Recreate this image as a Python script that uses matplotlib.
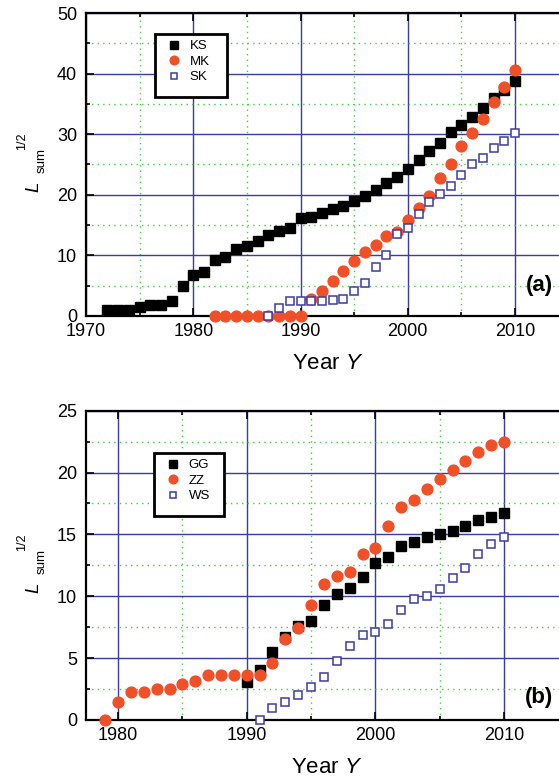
import matplotlib
matplotlib.use("Agg")
import matplotlib.pyplot as plt
from matplotlib.ticker import MultipleLocator
from matplotlib.patches import Rectangle

plt.rcParams['font.family'] = ['Liberation Sans', 'DejaVu Sans']
plt.rcParams['mathtext.fontset'] = 'custom'
plt.rcParams['mathtext.rm'] = 'Liberation Sans'
plt.rcParams['mathtext.it'] = 'Liberation Sans:italic'

# -----------------------------------------------
# Data, panel (a)
# -----------------------------------------------
ks_years = list(range(1972, 2011))
ks_vals = [1.0, 1.0, 1.0, 1.5, 1.75, 1.75, 2.4, 5.0, 6.7, 7.2,
           9.3, 9.8, 11.0, 11.6, 12.4, 13.3, 14.1, 14.5, 16.1, 16.4,
           17.0, 17.7, 18.1, 18.9, 19.8, 20.8, 21.9, 22.9, 24.3, 25.7,
           27.2, 28.5, 30.3, 31.6, 32.8, 34.4, 35.9, 37.3, 38.8]

mk_years = list(range(1982, 2011))
mk_vals = [0, 0, 0, 0, 0, 0, 0, 0, 0, 2.8,
           4.1, 5.8, 7.5, 9.0, 10.5, 11.7, 13.2, 13.9, 15.8, 17.9,
           19.8, 22.8, 25.1, 28.1, 30.2, 32.5, 35.3, 37.8, 40.6]

sk_years = list(range(1987, 2011))
sk_vals = [0, 1.4, 2.4, 2.4, 2.4, 2.4, 2.6, 2.8, 4.1, 5.5,
           8.1, 10.0, 13.6, 14.6, 16.9, 18.8, 20.2, 21.5, 23.3, 25.1,
           26.1, 27.7, 28.9, 30.2]

# -----------------------------------------------
# Data, panel (b)
# -----------------------------------------------
gg_years = list(range(1990, 2011))
gg_vals = [3.1, 4.07, 5.47, 6.73, 7.62, 8.03, 9.29, 10.2, 10.7, 11.56,
           12.7, 13.2, 14.1, 14.4, 14.8, 15.06, 15.3, 15.7, 16.2, 16.4, 16.76]

zz_years = list(range(1979, 2011))
zz_vals = [0, 1.43, 2.24, 2.24, 2.48, 2.48, 2.9, 3.15, 3.6, 3.6,
           3.6, 3.6, 3.6, 4.6, 6.57, 7.4, 9.27, 11.0, 11.6, 12.0,
           13.4, 13.9, 15.7, 17.2, 17.8, 18.7, 19.45, 20.2, 20.9, 21.7,
           22.25, 22.5]

ws_years = list(range(1991, 2011))
ws_vals = [0, 1.0, 1.43, 2.0, 2.7, 3.5, 4.8, 6.0, 6.87, 7.14,
           7.73, 8.9, 9.8, 10.0, 10.6, 11.5, 12.3, 13.4, 14.2, 14.8]

BLUE = '#3c3ca0'
GREEN = '#44cc44'
ORANGE = '#f05028'

W, H = 559, 781
fig = plt.figure(figsize=(W / 100, H / 100), dpi=100)


def fx(px):
    return px / W


def fy(py):
    return 1 - py / H


def px_axes(left, top, right, bottom):
    return fig.add_axes([fx(left), fy(bottom), (right - left) / W, (bottom - top) / H])


def style_axes(ax, xmaj, xmin, ymaj, ymin, top, bottom):
    ax.xaxis.set_major_locator(MultipleLocator(xmaj))
    ax.xaxis.set_minor_locator(MultipleLocator(xmin))
    ax.yaxis.set_major_locator(MultipleLocator(ymaj))
    ax.yaxis.set_minor_locator(MultipleLocator(ymin))
    ax.grid(True, which='major', color=BLUE, lw=1.0, ls='-', zorder=0)
    ax.grid(True, which='minor', color=GREEN, lw=1.0, ls=(0, (1, 3)), zorder=0)
    ax.set_axisbelow(True)
    ax.tick_params(which='both', direction='in', top=True, right=True,
                   labelsize=13, width=1.2)
    ax.tick_params(which='major', length=6)
    ax.tick_params(which='minor', length=3)
    ax.tick_params(axis='x', pad=5)
    ax.tick_params(axis='y', pad=6.5)
    for sp in ax.spines.values():
        sp.set_linewidth(1.6)
    # x label
    ax.set_xlabel('Year $\\mathit{Y}$', fontsize=16)
    ax.xaxis.set_label_coords(0.5, -37 / (bottom - top))
    # y label built from pieces: L, subscript "sum", raised "1/2"
    cy = (top + bottom) / 2
    kw = dict(rotation=90, rotation_mode='anchor', ha='left', va='baseline')
    fig.text(fx(38), fy(cy + 27.5), 'L', fontsize=13.5, style='italic', **kw)
    fig.text(fx(45), fy(cy + 8.8), 'sum', fontsize=9.5, **kw)
    fig.text(fx(25.5), fy(cy - 14.5), '1/2', fontsize=9, **kw)


def add_legend(handles, labels, box):
    left, top, right, bottom = box
    fig.add_artist(Rectangle((fx(left), fy(bottom)), (right - left) / W, (bottom - top) / H,
                             transform=fig.transFigure, facecolor='white',
                             edgecolor='black', lw=2, zorder=2))
    fig.legend(handles, labels, loc='upper left',
               bbox_to_anchor=(fx(left + 9), fy(top + 6)),
               frameon=False, borderaxespad=0, borderpad=0,
               fontsize=9.5, markerscale=0.8, handlelength=1.5,
               handletextpad=0.45, labelspacing=0.25)


# -----------------------------------------------
# Panel (a)
# -----------------------------------------------
ax1 = px_axes(86, 13, 568.7, 316)
h1 = ax1.plot(ks_years, ks_vals, 's', color='black', ms=7.2, zorder=3, clip_on=False)
h2 = ax1.plot(mk_years, mk_vals, 'o', color=ORANGE, ms=7.8, zorder=4, clip_on=False)
h3 = ax1.plot(sk_years, sk_vals, 's', mfc='white', mec=BLUE, mew=1.1, ms=5.6, zorder=5, clip_on=False)
ax1.set_xlim(1970, 2015)
ax1.set_ylim(0, 50)
style_axes(ax1, 10, 5, 10, 5, 13, 316)
add_legend(h1 + h2 + h3, ['KS', 'MK', 'SK'], (155, 34, 227, 97))
fig.text(fx(553), fy(286), '(a)', ha='right', va='center', fontsize=16, fontweight='bold')

# -----------------------------------------------
# Panel (b)
# -----------------------------------------------
ax2 = px_axes(86, 410.7, 568.3, 720)
g1 = ax2.plot(gg_years, gg_vals, 's', color='black', ms=7.2, zorder=3, clip_on=False)
g2 = ax2.plot(zz_years, zz_vals, 'o', color=ORANGE, ms=7.8, zorder=4, clip_on=False)
g3 = ax2.plot(ws_years, ws_vals, 's', mfc='white', mec=BLUE, mew=1.1, ms=5.6, zorder=5, clip_on=False)
ax2.set_xlim(1977.5, 2015)
ax2.set_ylim(0, 25)
style_axes(ax2, 10, 5, 5, 2.5, 410.7, 720)
add_legend(g1 + g2 + g3, ['GG', 'ZZ', 'WS'], (154, 453, 224, 516))
fig.text(fx(553), fy(697), '(b)', ha='right', va='center', fontsize=16, fontweight='bold')

fig.savefig('out.png', dpi=100)
